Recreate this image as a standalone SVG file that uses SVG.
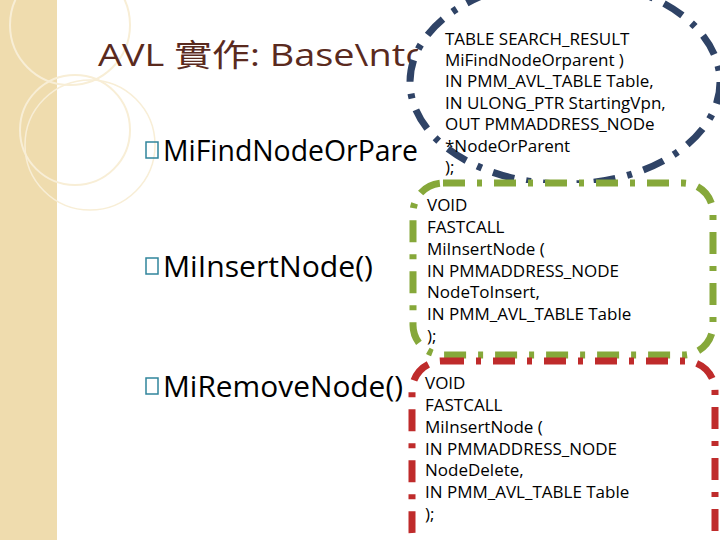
<svg xmlns="http://www.w3.org/2000/svg" width="720" height="540" viewBox="0 0 720 540">
<style>
.t{font-family:"Open Sans","Liberation Sans",sans-serif;font-size:17px;fill:#000}
.b{font-family:"Open Sans","Liberation Sans",sans-serif;font-size:29px;fill:#000}
.sq{fill:none;stroke:#31859c;stroke-width:1.5}
</style>
<rect width="720" height="540" fill="#fff"/>
<g id="strip">
<rect x="0" y="0" width="57" height="540" fill="#efdcae"/>
<circle cx="70" cy="25" r="60" fill="none" stroke="#f8eed6" stroke-width="2"/>
<circle cx="75" cy="130" r="55" fill="none" stroke="#f8eed6" stroke-width="2"/>
<circle cx="90" cy="145" r="65" fill="none" stroke="#f8eed6" stroke-width="1.5"/>
</g>
<g id="title"><text x="98" y="66" font-family="'Open Sans','Liberation Sans','Noto Sans CJK TC',sans-serif" font-size="31" fill="#5a2a1e" textLength="330" lengthAdjust="spacingAndGlyphs">AVL 實作: Base\nto</text></g>
<g id="bullets">
<rect x="146" y="142" width="12" height="16" class="sq"/><text x="163" y="161" class="b" textLength="255" lengthAdjust="spacingAndGlyphs">MiFindNodeOrPare</text>
<rect x="146" y="258" width="12" height="16" class="sq"/><text x="163" y="277" class="b" textLength="210" lengthAdjust="spacingAndGlyphs">MiInsertNode()</text>
<rect x="146" y="378" width="12" height="16" class="sq"/><text x="163" y="397" class="b" textLength="240" lengthAdjust="spacingAndGlyphs">MiRemoveNode()</text>
</g>
<g id="n1">
<ellipse cx="565" cy="82" rx="155" ry="102" fill="#fff" stroke="#2f4366" stroke-width="7" stroke-dasharray="22 12 5 12"/>
<text class="t"><tspan x="445" y="45">TABLE SEARCH_RESULT</tspan><tspan x="445" y="66">MiFindNodeOrparent )</tspan><tspan x="445" y="87">IN PMM_AVL_TABLE Table,</tspan><tspan x="445" y="109">IN ULONG_PTR StartingVpn,</tspan><tspan x="445" y="130">OUT PMMADDRESS_NODe</tspan><tspan x="445" y="152">*NodeOrParent</tspan><tspan x="445" y="173">);</tspan></text>
</g>
<g id="n2">
<rect x="413" y="183" width="300" height="172" rx="30" fill="#fff" stroke="#86a83a" stroke-width="7" stroke-dasharray="22 12 5 12"/>
<text class="t"><tspan x="427" y="211">VOID</tspan><tspan x="427" y="233">FASTCALL</tspan><tspan x="427" y="255">MiInsertNode (</tspan><tspan x="427" y="277">IN PMMADDRESS_NODE</tspan><tspan x="427" y="298">NodeToInsert,</tspan><tspan x="427" y="320">IN PMM_AVL_TABLE  Table</tspan><tspan x="427" y="342">);</tspan></text>
</g>
<g id="n3">
<rect x="412" y="361" width="303" height="200" rx="30" fill="#fff" stroke="#bf2b2b" stroke-width="7" stroke-dasharray="22 12 5 12"/>
<text class="t"><tspan x="425" y="389">VOID</tspan><tspan x="425" y="411">FASTCALL</tspan><tspan x="425" y="433">MiInsertNode (</tspan><tspan x="425" y="455">IN PMMADDRESS_NODE</tspan><tspan x="425" y="476">NodeDelete,</tspan><tspan x="425" y="498">IN PMM_AVL_TABLE  Table</tspan><tspan x="425" y="520">);</tspan></text>
</g>
<g id="connectors"/>
</svg>
